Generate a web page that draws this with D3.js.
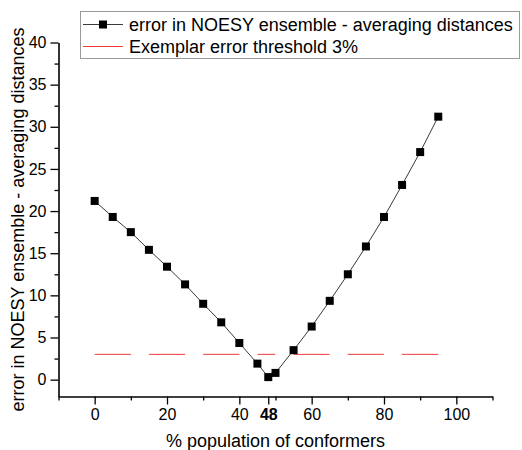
<!DOCTYPE html>
<html>
<head>
<meta charset="utf-8">
<script src="https://cdn.jsdelivr.net/npm/d3@7"></script>
<style>
  html, body { margin: 0; padding: 0; background: #fff; }
  svg { display: block; font-family: "Liberation Sans", Arial, sans-serif; }
</style>
</head>
<body>
<svg id="chart" width="522" height="450"></svg>
<script>
// ---- data ----
const populations = [0, 5, 10, 15, 20, 25, 30, 35, 40, 45, 48, 50, 55, 60, 65, 70, 75, 80, 85, 90, 95];
const errors = [21.2, 19.3, 17.5, 15.4, 13.4, 11.3, 9.0, 6.8, 4.35, 1.9, 0.3, 0.8, 3.5, 6.3, 9.35, 12.5, 15.8, 19.3, 23.1, 27.0, 31.2];
const thresholdX = [0, 95];
const thresholdValue = 3;
const xMajorTicks = [0, 20, 40, 48, 60, 80, 100];
const xMinorTicks = [-10, 10, 30, 50, 70, 90, 110];
const yMajorTicks = [0, 5, 10, 15, 20, 25, 30, 35, 40];
const yMinorTicks = [2.5, 7.5, 12.5, 17.5, 22.5, 27.5, 32.5, 37.5];
const seriesNames = ["error in NOESY ensemble - averaging distances", "Exemplar error threshold 3%"];
const xTitle = "% population of conformers";
const yTitle = "error in NOESY ensemble - averaging distances";

// ---- layout ----
const svg = d3.select("#chart");
const x = d3.scaleLinear().domain([-10, 110]).range([58.5, 492.5]);
const y = d3.scaleLinear().domain([-2, 40]).range([396.5, 42.5]);

// threshold (dashed red)
svg.append("path")
  .datum(thresholdX.map(v => [v, thresholdValue]))
  .attr("d", d3.line().x(d => x(d[0])).y(d => y(d[1])))
  .attr("fill", "none")
  .attr("stroke", "#f03c3c")
  .attr("stroke-width", 1)
  .attr("stroke-dasharray", "36.2,18.1,36.2,18.1,36.2,18.1,17.6,18.2,36.2,18.1,36.2,18.1,36.2,100");

// data line
const pts = populations.map((p, i) => [p, errors[i]]);
svg.append("path")
  .datum(pts)
  .attr("d", d3.line().x(d => x(d[0])).y(d => y(d[1])))
  .attr("fill", "none")
  .attr("stroke", "#3a3a3a")
  .attr("stroke-width", 1);

// markers
const ms = 8;
svg.append("g").selectAll("rect").data(pts).join("rect")
  .attr("x", d => x(d[0]) - ms / 2)
  .attr("y", d => y(d[1]) - ms / 2)
  .attr("width", ms).attr("height", ms)
  .attr("fill", "#000");

// axes
function styleAxis(g) {
  g.selectAll("path.domain").attr("stroke", "#000").attr("stroke-width", 1.6);
  g.selectAll(".tick line").attr("stroke", "#000").attr("stroke-width", 1.3);
  g.selectAll("text").attr("fill", "#000");
}
const yAxis = svg.append("g").attr("transform", `translate(${x(-10)},0)`)
  .call(d3.axisLeft(y).tickValues(yMajorTicks).tickSize(8).tickSizeOuter(0).tickPadding(4))
  .call(g => g.selectAll("text").attr("font-size", 16).attr("font-family", "Liberation Sans, Arial, sans-serif"))
  .call(styleAxis);
svg.append("g").attr("transform", `translate(${x(-10)},0)`)
  .call(d3.axisLeft(y).tickValues(yMinorTicks).tickSize(4).tickSizeOuter(0).tickFormat(""))
  .call(g => g.select("path.domain").remove())
  .call(styleAxis);

const xAxis = svg.append("g").attr("transform", `translate(0,${y(-2)})`)
  .call(d3.axisBottom(x).tickValues(xMajorTicks).tickSize(8).tickSizeOuter(0).tickPadding(4))
  .call(g => g.selectAll("text").attr("font-size", 16).attr("font-family", "Liberation Sans, Arial, sans-serif")
    .attr("font-weight", d => d === 48 ? "bold" : "normal"))
  .call(styleAxis);
svg.append("g").attr("transform", `translate(0,${y(-2)})`)
  .call(d3.axisBottom(x).tickValues(xMinorTicks).tickSize(4).tickSizeOuter(0).tickFormat(""))
  .call(g => g.select("path.domain").remove())
  .call(styleAxis);

// axis titles
svg.append("text")
  .attr("x", (x(-10) + x(110)) / 2).attr("y", 447)
  .attr("text-anchor", "middle").attr("font-size", 18)
  .text(xTitle);
svg.append("text")
  .attr("transform", `translate(24,${(y(-2) + y(40)) / 2}) rotate(-90)`)
  .attr("text-anchor", "middle").attr("font-size", 18)
  .text(yTitle);

// legend
const lg = svg.append("g");
lg.append("rect").attr("x", 80.5).attr("y", 11.5).attr("width", 439).attr("height", 47)
  .attr("fill", "#fff").attr("stroke", "#999").attr("stroke-width", 1);
lg.append("line").attr("x1", 83).attr("x2", 123).attr("y1", 24.5).attr("y2", 24.5)
  .attr("stroke", "#3a3a3a").attr("stroke-width", 1);
lg.append("rect").attr("x", 103 - ms / 2).attr("y", 24.5 - ms / 2).attr("width", ms).attr("height", ms).attr("fill", "#000");
lg.append("text").attr("x", 129).attr("y", 31).attr("font-size", 18).text(seriesNames[0]);
lg.append("line").attr("x1", 83).attr("x2", 123).attr("y1", 46.5).attr("y2", 46.5)
  .attr("stroke", "#f03c3c").attr("stroke-width", 1);
lg.append("text").attr("x", 129).attr("y", 53).attr("font-size", 18).text(seriesNames[1]);
</script>
</body>
</html>
